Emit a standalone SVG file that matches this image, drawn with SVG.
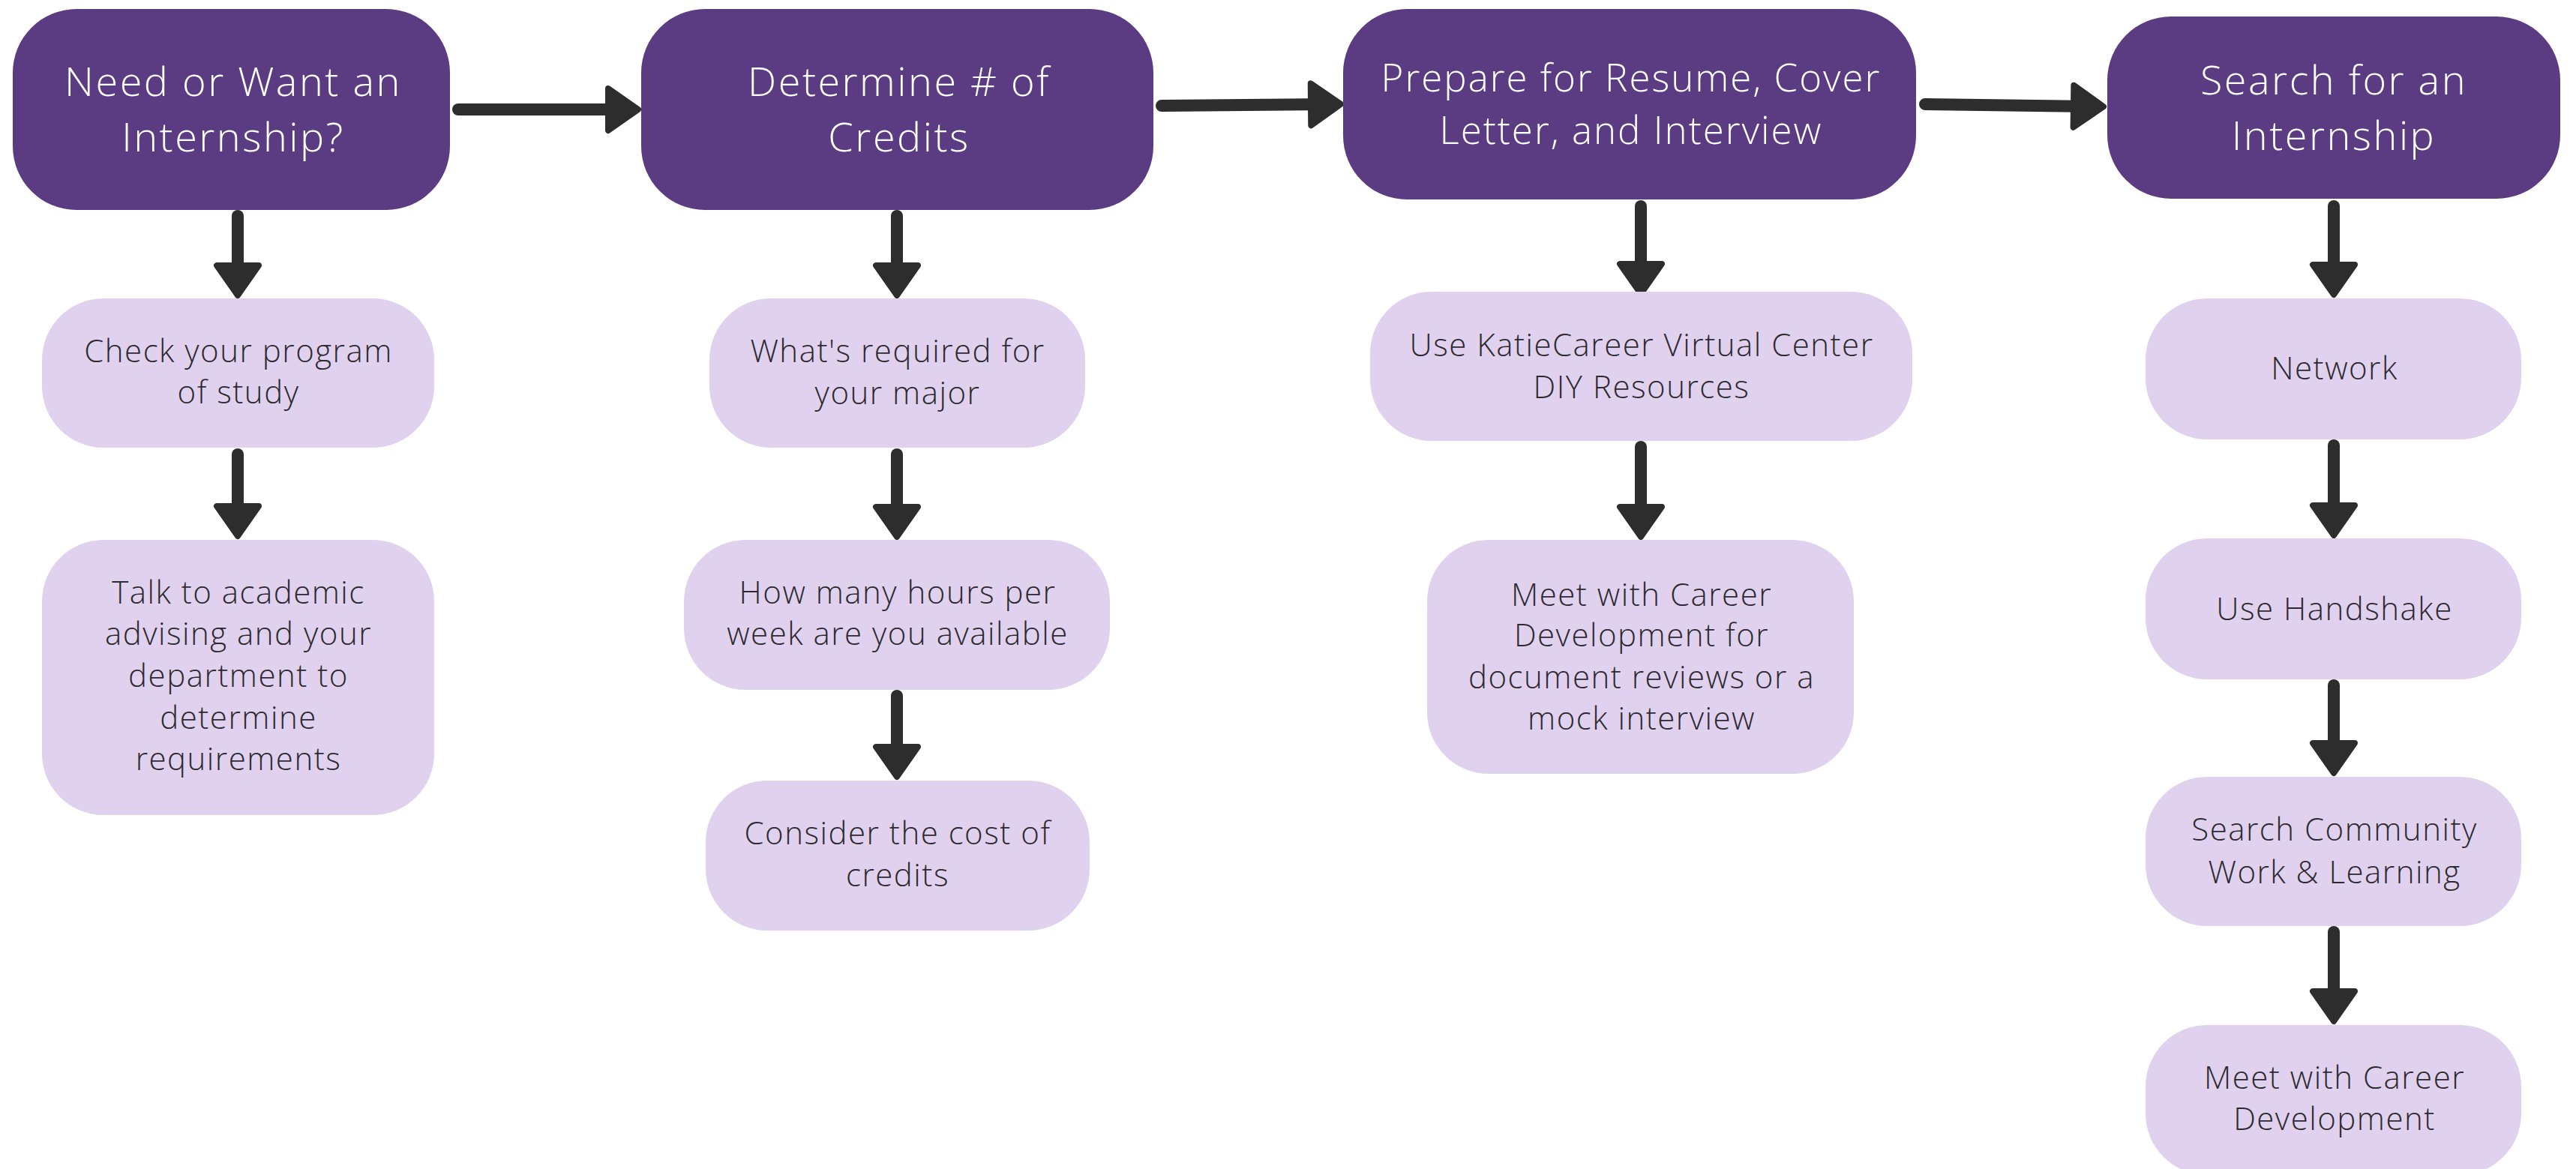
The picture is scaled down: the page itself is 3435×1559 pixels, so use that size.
<svg xmlns="http://www.w3.org/2000/svg" width="3435" height="1559" viewBox="0 0 3435 1559">
<defs>
<style>
.main rect{fill:#5b3b82}
.sub rect{fill:#e0d2ee}
.main text{fill:#ffffff;font-family:"Open Sans","Liberation Sans",sans-serif;font-weight:300;font-size:54px;letter-spacing:2.5px;text-anchor:middle}
.sub text{fill:#2d2a30;font-family:"Open Sans","Liberation Sans",sans-serif;font-weight:300;font-size:42px;letter-spacing:1.5px;text-anchor:middle}
.conn path{fill:none;stroke:#2d2d2d;stroke-width:16;stroke-linecap:round;marker-end:url(#ah)}
</style>
<marker id="ah" markerUnits="userSpaceOnUse" markerWidth="60" markerHeight="80" refX="28" refY="0" orient="auto" overflow="visible">
<path d="M4,-28 L44,0 L4,28 Z" fill="#2d2d2d" stroke="#2d2d2d" stroke-width="8" stroke-linejoin="round"/>
</marker>
</defs>
<rect width="3435" height="1559" fill="#ffffff"/>

<g class="conn" id="connectors">
<path d="M611,146 L835,146"/>
<path d="M1549,141 L1772,139"/>
<path d="M2567,139 L2789,142"/>
<path d="M317,288 L317,378"/>
<path d="M317,606 L317,699"/>
<path d="M1196,288 L1196,378"/>
<path d="M1196,606 L1196,700"/>
<path d="M1196,928 L1196,1020"/>
<path d="M2188,275 L2188,376"/>
<path d="M2188,596 L2188,700"/>
<path d="M3112,275 L3112,377"/>
<path d="M3112,594 L3112,698"/>
<path d="M3112,914 L3112,1015"/>
<path d="M3112,1243 L3112,1346"/>
</g>

<g class="main" id="need-internship">
<rect x="17" y="12" width="583" height="268" rx="85"/>
<text x="311" y="128">Need or Want an</text>
<text x="311" y="202">Internship?</text>
</g>
<g class="main" id="determine-credits">
<rect x="855" y="12" width="683" height="268" rx="85"/>
<text x="1199" y="128">Determine # of</text>
<text x="1199" y="202">Credits</text>
</g>
<g class="main" id="prepare">
<rect x="1791" y="12" width="764" height="254" rx="85"/>
<text x="2175" y="122" style="font-size:51px;letter-spacing:2px">Prepare for Resume, Cover</text>
<text x="2175" y="192" style="font-size:51px;letter-spacing:2px">Letter, and Interview</text>
</g>
<g class="main" id="search-internship">
<rect x="2810" y="22" width="604" height="243" rx="85"/>
<text x="3112" y="126">Search for an</text>
<text x="3112" y="200">Internship</text>
</g>

<g class="sub" id="check-program">
<rect x="56" y="398" width="523" height="199" rx="82"/>
<text x="318" y="483">Check your program</text>
<text x="318" y="538">of study</text>
</g>
<g class="sub" id="talk-advising">
<rect x="56" y="720" width="523" height="367" rx="82"/>
<text x="318" y="805">Talk to academic</text>
<text x="318" y="860">advising and your</text>
<text x="318" y="916">department to</text>
<text x="318" y="972">determine</text>
<text x="318" y="1027">requirements</text>
</g>

<g class="sub" id="whats-required">
<rect x="946" y="398" width="501" height="199" rx="82"/>
<text x="1197" y="483">What's required for</text>
<text x="1197" y="539">your major</text>
</g>
<g class="sub" id="hours-per-week">
<rect x="912" y="720" width="568" height="200" rx="82"/>
<text x="1197" y="805">How many hours per</text>
<text x="1197" y="860">week are you available</text>
</g>
<g class="sub" id="cost-credits">
<rect x="941" y="1041" width="512" height="200" rx="82"/>
<text x="1197" y="1126">Consider the cost of</text>
<text x="1197" y="1182">credits</text>
</g>

<g class="sub" id="katiecareer">
<rect x="1827" y="389" width="723" height="199" rx="82"/>
<text x="2189" y="475">Use KatieCareer Virtual Center</text>
<text x="2189" y="531">DIY Resources</text>
</g>
<g class="sub" id="meet-career-docs">
<rect x="1903" y="720" width="569" height="312" rx="82"/>
<text x="2189" y="808">Meet with Career</text>
<text x="2189" y="862">Development for</text>
<text x="2189" y="918">document reviews or a</text>
<text x="2189" y="973">mock interview</text>
</g>

<g class="sub" id="network">
<rect x="2861" y="398" width="501" height="188" rx="82"/>
<text x="3113" y="506">Network</text>
</g>
<g class="sub" id="handshake">
<rect x="2861" y="718" width="501" height="188" rx="82"/>
<text x="3113" y="827">Use Handshake</text>
</g>
<g class="sub" id="community-work">
<rect x="2861" y="1036" width="501" height="199" rx="82"/>
<text x="3113" y="1121">Search Community</text>
<text x="3113" y="1178">Work &amp; Learning</text>
</g>
<g class="sub" id="meet-career-dev">
<rect x="2861" y="1367" width="501" height="200" rx="82"/>
<text x="3113" y="1452">Meet with Career</text>
<text x="3113" y="1507">Development</text>
</g>
</svg>
